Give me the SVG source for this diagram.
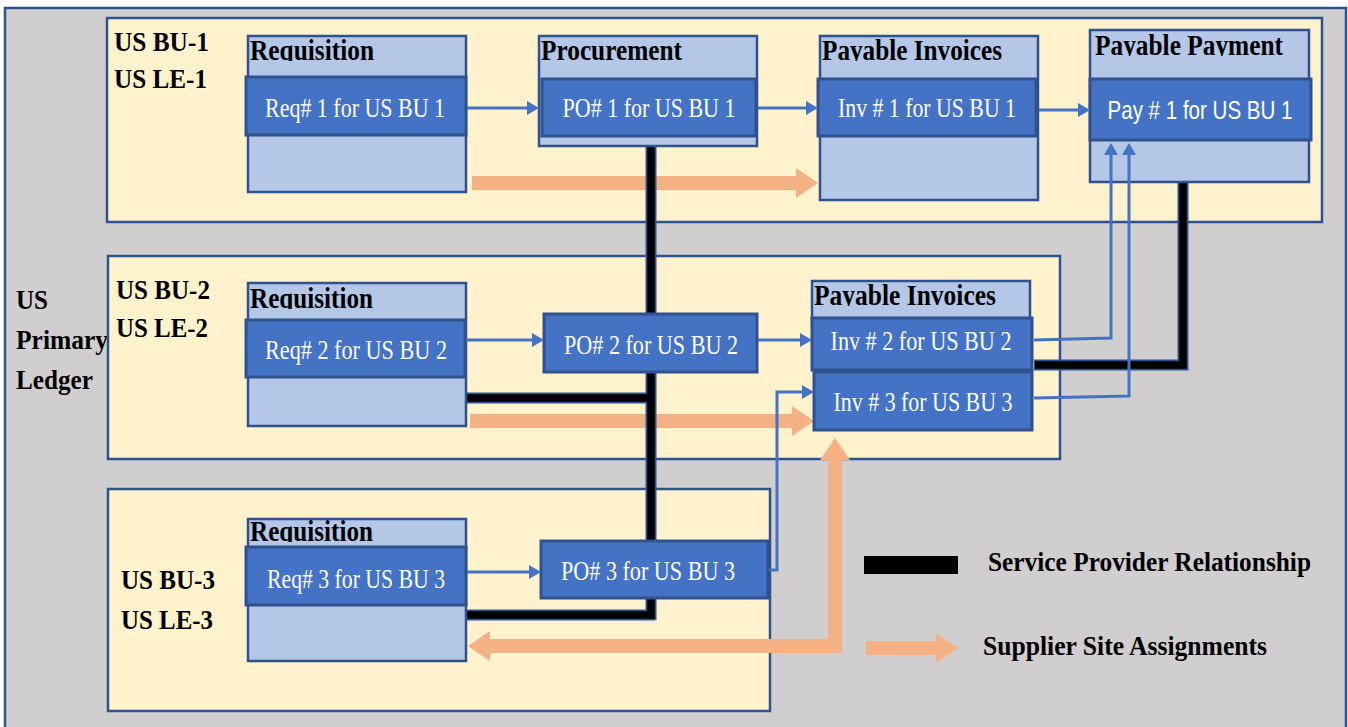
<svg xmlns="http://www.w3.org/2000/svg" width="1348" height="727" viewBox="0 0 1348 727">
  <style>
    .frame { fill: #D0CECE; stroke: #2F528F; stroke-width: 2.5; }
    .bu { fill: #FFF2CC; stroke: #2F528F; stroke-width: 2.5; }
    .box { fill: #B4C7E7; stroke: #2F528F; stroke-width: 2.5; }
    .band { fill: #4472C4; stroke: #2F528F; stroke-width: 3; }
    .title { font-family: "Liberation Serif", "Times New Roman", serif; font-weight: bold; font-size: 30px; fill: #000; }
    .lbl { font-family: "Liberation Serif", "Times New Roman", serif; font-weight: bold; font-size: 28px; fill: #000; }
    .item { font-family: "Liberation Serif", "Times New Roman", serif; font-size: 28px; fill: #FFFFFF; text-anchor: middle; }
    .itemsans { font-family: "Liberation Sans", Arial, sans-serif; font-size: 25px; fill: #FFFFFF; text-anchor: middle; }
    .flow { fill: none; stroke: #4472C4; stroke-width: 3; marker-end: url(#blueHead); }
    .sprOut { fill: none; stroke: #2F528F; stroke-width: 11; stroke-linejoin: miter; }
    .spr { fill: none; stroke: #000; stroke-width: 7.5; stroke-linejoin: miter; }
    .site { fill: none; stroke: #F4B183; stroke-width: 14; }
  </style>
  <defs>
    <marker id="blueHead" markerUnits="userSpaceOnUse" viewBox="0 0 12 14" refX="0" refY="7" markerWidth="12" markerHeight="14" orient="auto">
      <path d="M0,0 L12,7 L0,14 Z" fill="#4472C4"/>
    </marker>
    <marker id="siteHead" markerUnits="userSpaceOnUse" viewBox="0 0 22 30" refX="0" refY="15" markerWidth="22" markerHeight="30" orient="auto-start-reverse">
      <path d="M0,0 L22,15 L0,30 Z" fill="#F4B183"/>
    </marker>
    <clipPath id="cReq1"><rect x="248" y="36" width="218" height="25"/></clipPath>
    <clipPath id="cPo1"><rect x="539" y="36" width="218" height="25"/></clipPath>
    <clipPath id="cInv1"><rect x="820" y="36" width="218" height="25"/></clipPath>
    <clipPath id="cPay1"><rect x="1090" y="30" width="220" height="26"/></clipPath>
    <clipPath id="cReq2"><rect x="248" y="283" width="218" height="26"/></clipPath>
    <clipPath id="cInv2"><rect x="812" y="281" width="218" height="25"/></clipPath>
    <clipPath id="cReq3"><rect x="248" y="519" width="218" height="23"/></clipPath>
  </defs>

  <!-- ledger frame -->
  <g id="ledger">
    <rect class="frame" x="5" y="8" width="1341" height="725"/>
    <text class="lbl" x="16" y="309" textLength="32" lengthAdjust="spacingAndGlyphs">US</text>
    <text class="lbl" x="16" y="349" textLength="92" lengthAdjust="spacingAndGlyphs">Primary</text>
    <text class="lbl" x="16" y="389" textLength="77" lengthAdjust="spacingAndGlyphs">Ledger</text>
  </g>

  <!-- business unit containers -->
  <g id="bu1">
    <rect class="bu" x="107" y="18" width="1215" height="204"/>
    <text class="lbl" x="114" y="51" textLength="95" lengthAdjust="spacingAndGlyphs">US BU-1</text>
    <text class="lbl" x="114" y="88" textLength="93" lengthAdjust="spacingAndGlyphs">US LE-1</text>
  </g>
  <g id="bu2">
    <rect class="bu" x="108" y="256" width="952" height="203"/>
    <text class="lbl" x="116" y="299" textLength="94" lengthAdjust="spacingAndGlyphs">US BU-2</text>
    <text class="lbl" x="116" y="337" textLength="92" lengthAdjust="spacingAndGlyphs">US LE-2</text>
  </g>
  <g id="bu3">
    <rect class="bu" x="108" y="489" width="662" height="222"/>
    <text class="lbl" x="121" y="589" textLength="94" lengthAdjust="spacingAndGlyphs">US BU-3</text>
    <text class="lbl" x="121" y="629" textLength="92" lengthAdjust="spacingAndGlyphs">US LE-3</text>
  </g>

  <!-- supplier site assignments -->
  <g id="site-links">
    <path class="site" d="M472,183 L796,183" marker-end="url(#siteHead)"/>
    <path class="site" d="M470,421 L792,421" marker-end="url(#siteHead)"/>
    <path class="site" d="M490,646 L835,646 L835,460" marker-start="url(#siteHead)" marker-end="url(#siteHead)"/>
  </g>

  <!-- service provider relationships -->
  <g id="provider-links">
    <path class="sprOut" d="M651,146 L651,620"/>
    <path class="sprOut" d="M466,398 L655,398"/>
    <path class="sprOut" d="M466,615 L655,615"/>
    <path class="sprOut" d="M1183,179 L1183,365 L1034,365"/>
    <path class="spr" d="M651,147 L651,619"/>
    <path class="spr" d="M467,398 L654,398"/>
    <path class="spr" d="M467,615 L654,615"/>
    <path class="spr" d="M1183,180 L1183,365 L1035,365"/>
  </g>

  <!-- requisition, BU 1 -->
  <g id="req1">
    <rect class="box" x="248" y="36" width="218" height="156"/>
    <text class="title" x="250" y="60" clip-path="url(#cReq1)" textLength="124" lengthAdjust="spacingAndGlyphs">Requisition</text>
    <rect class="band" x="246" y="77" width="220" height="58"/>
    <text class="item" x="355" y="117" textLength="180" lengthAdjust="spacingAndGlyphs">Req# 1 for US BU 1</text>
  </g>
  <g id="po1">
    <rect class="box" x="539" y="36" width="218" height="110"/>
    <text class="title" x="541" y="60" clip-path="url(#cPo1)" textLength="141" lengthAdjust="spacingAndGlyphs">Procurement</text>
    <rect class="band" x="542" y="79" width="214" height="57"/>
    <text class="item" x="649" y="117" textLength="173" lengthAdjust="spacingAndGlyphs">PO# 1 for US BU 1</text>
  </g>
  <g id="inv1">
    <rect class="box" x="820" y="36" width="218" height="164"/>
    <text class="title" x="822" y="60" clip-path="url(#cInv1)" textLength="180" lengthAdjust="spacingAndGlyphs">Payable Invoices</text>
    <rect class="band" x="818" y="79" width="218" height="57"/>
    <text class="item" x="927" y="117" textLength="178" lengthAdjust="spacingAndGlyphs">Inv # 1 for US BU 1</text>
  </g>
  <g id="pay1">
    <rect class="box" x="1090" y="30" width="219" height="152"/>
    <text class="title" x="1095" y="55" clip-path="url(#cPay1)" textLength="188" lengthAdjust="spacingAndGlyphs">Payable Payment</text>
    <rect class="band" x="1090" y="79" width="221" height="61"/>
    <text class="itemsans" x="1200" y="119" textLength="185" lengthAdjust="spacingAndGlyphs">Pay # 1 for US BU 1</text>
  </g>

  <!-- BU 2 -->
  <g id="req2">
    <rect class="box" x="248" y="283" width="218" height="143"/>
    <text class="title" x="250" y="308" clip-path="url(#cReq2)" textLength="123" lengthAdjust="spacingAndGlyphs">Requisition</text>
    <rect class="band" x="246" y="320" width="219" height="57"/>
    <text class="item" x="356" y="359" textLength="182" lengthAdjust="spacingAndGlyphs">Req# 2 for US BU 2</text>
  </g>
  <g id="po2">
    <rect class="band" x="544" y="314" width="213" height="58"/>
    <text class="item" x="651" y="354" textLength="174" lengthAdjust="spacingAndGlyphs">PO# 2 for US BU 2</text>
  </g>
  <g id="inv2">
    <rect class="box" x="812" y="281" width="218" height="40"/>
    <text class="title" x="814" y="305" clip-path="url(#cInv2)" textLength="182" lengthAdjust="spacingAndGlyphs">Payable Invoices</text>
    <rect class="band" x="812" y="318" width="220" height="52"/>
    <text class="item" x="921" y="350" textLength="181" lengthAdjust="spacingAndGlyphs">Inv # 2 for US BU 2</text>
  </g>
  <g id="inv3">
    <rect class="band" x="814" y="372" width="218" height="58"/>
    <text class="item" x="923" y="411" textLength="179" lengthAdjust="spacingAndGlyphs">Inv # 3 for US BU 3</text>
  </g>

  <!-- BU 3 -->
  <g id="req3">
    <rect class="box" x="248" y="519" width="218" height="142"/>
    <text class="title" x="250" y="541" clip-path="url(#cReq3)" textLength="123" lengthAdjust="spacingAndGlyphs">Requisition</text>
    <rect class="band" x="246" y="547" width="220" height="58"/>
    <text class="item" x="356" y="588" textLength="178" lengthAdjust="spacingAndGlyphs">Req# 3 for US BU 3</text>
  </g>
  <g id="po3">
    <rect class="band" x="541" y="541" width="227" height="57"/>
    <text class="item" x="648" y="580" textLength="174" lengthAdjust="spacingAndGlyphs">PO# 3 for US BU 3</text>
  </g>

  <!-- document flow, drawn over the boxes it enters -->
  <g id="flow-links">
    <path class="flow" d="M467,108 L527,108"/>
    <path class="flow" d="M758,108 L806,108"/>
    <path class="flow" d="M1039,110 L1078,110"/>
    <path class="flow" d="M466,340 L532,340"/>
    <path class="flow" d="M758,340 L800,340"/>
    <path class="flow" d="M467,572 L529,572"/>
    <path class="flow" d="M769,570 L777,570 L777,392 L802,392"/>
    <path class="flow" d="M1034,340 L1111,338 L1111,155"/>
    <path class="flow" d="M1034,398 L1129,396 L1129,155"/>
  </g>

  <!-- legend -->
  <g id="legend">
    <rect x="864" y="556" width="94" height="18" fill="#000"/>
    <text class="lbl" x="988" y="571" textLength="323" lengthAdjust="spacingAndGlyphs">Service Provider Relationship</text>
    <path class="site" d="M866,648 L936,648" marker-end="url(#siteHead)"/>
    <text class="lbl" x="983" y="655" textLength="284" lengthAdjust="spacingAndGlyphs">Supplier Site Assignments</text>
  </g>
</svg>
